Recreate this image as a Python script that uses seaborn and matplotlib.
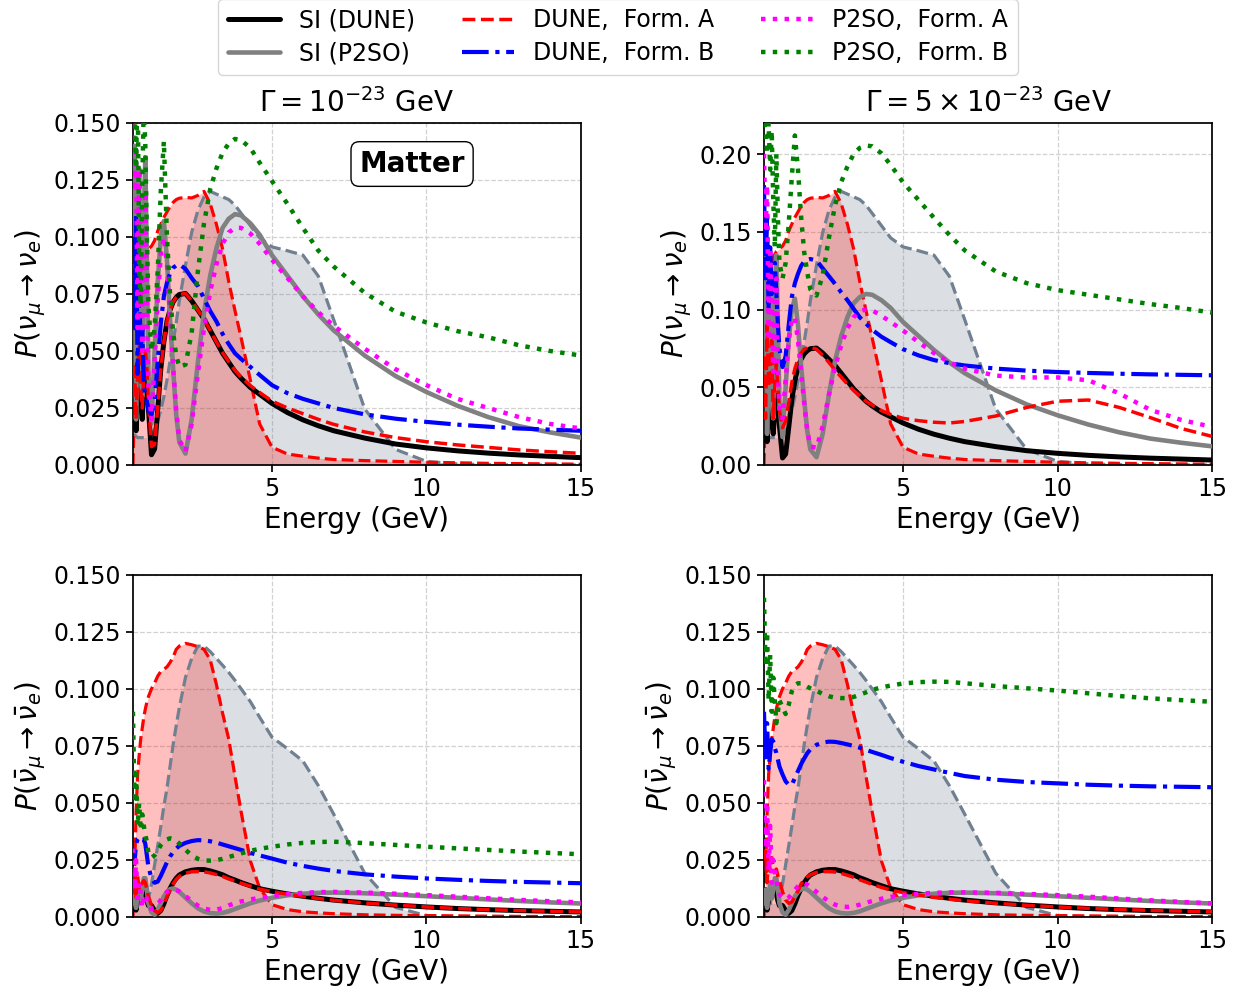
import numpy as np
import pandas as pd
import matplotlib
matplotlib.use("Agg")
import matplotlib.pyplot as plt
from matplotlib.lines import Line2D
from matplotlib.ticker import FormatStrFormatter
import seaborn as sns

# ---------------- data ----------------
energy = [0.5, 0.55, 0.6, 0.65, 0.7, 0.75, 0.8, 0.85, 0.9, 0.95, 1.0, 1.1, 1.2, 1.3, 1.4,
          1.5, 1.6, 1.7, 1.8, 1.9, 2.0, 2.2, 2.4, 2.6, 2.8, 3.0, 3.2, 3.4, 3.6, 3.8, 4.0,
          4.3, 4.6, 5.0, 5.5, 6.0, 6.5, 7.0, 8.0, 9.0, 10, 11, 12, 13, 14, 15]

# normalised flux shapes (peak = 1)
flux_dune_nu = [0.0, 0.25, 0.5, 0.62, 0.70, 0.74, 0.76, 0.77, 0.78, 0.785, 0.79, 0.80, 0.82, 0.855,
                0.88, 0.905, 0.925, 0.945, 0.96, 0.97, 0.975, 0.978, 0.976, 0.985, 1.0, 0.955, 0.88,
                0.79, 0.67, 0.565, 0.465, 0.31, 0.15, 0.065, 0.04, 0.032, 0.025, 0.02, 0.016, 0.013,
                0.01, 0.008, 0.006, 0.005, 0.004, 0.003]
flux_dune_nubar = [0.0, 0.15, 0.38, 0.52, 0.59, 0.65, 0.69, 0.73, 0.76, 0.785, 0.805, 0.834, 0.855,
                   0.88, 0.897, 0.905, 0.914, 0.93, 0.95, 0.978, 0.99, 1.0, 0.995, 0.988, 0.978, 0.94,
                   0.85, 0.745, 0.65, 0.515, 0.385, 0.205, 0.105, 0.045, 0.027, 0.019, 0.015, 0.012,
                   0.008, 0.006, 0.005, 0.004, 0.003, 0.002, 0.0015, 0.001]
flux_p2so_nu = [0.11, 0.11, 0.105, 0.10, 0.10, 0.10, 0.10, 0.10, 0.10, 0.10, 0.10, 0.11, 0.13, 0.16,
                0.20, 0.25, 0.31, 0.38, 0.45, 0.52, 0.60, 0.73, 0.85, 0.93, 0.98, 1.0, 0.99, 0.98,
                0.97, 0.95, 0.92, 0.875, 0.83, 0.797, 0.783, 0.767, 0.69, 0.53, 0.205, 0.057, 0.013,
                0.004, 0.001, 0.0, 0.0, 0.0]
flux_p2so_nubar = [0.08, 0.07, 0.065, 0.06, 0.055, 0.05, 0.05, 0.05, 0.05, 0.055, 0.065, 0.12, 0.19,
                   0.26, 0.33, 0.405, 0.47, 0.55, 0.63, 0.70, 0.765, 0.876, 0.945, 0.99, 0.99, 0.97,
                   0.945, 0.92, 0.894, 0.865, 0.834, 0.787, 0.73, 0.657, 0.615, 0.57, 0.48, 0.375,
                   0.16, 0.035, 0.005, 0.0, 0.0, 0.0, 0.0, 0.0]

# standard interactions (same in both Gamma columns)
si_dune_nu = [0.02, 0.04, 0.015, 0.035, 0.05, 0.03, 0.02, 0.035, 0.045, 0.04, 0.025, 0.0045, 0.007,
              0.024, 0.042, 0.054, 0.063, 0.068, 0.0715, 0.0735, 0.0748, 0.0752, 0.072, 0.068, 0.064,
              0.059, 0.054, 0.049, 0.045, 0.041, 0.038, 0.034, 0.031, 0.027, 0.023, 0.0198, 0.0172,
              0.015, 0.0118, 0.0092, 0.0075, 0.0062, 0.0052, 0.0044, 0.0038, 0.0032]
si_p2so_nu = [0.08, 0.14, 0.02, 0.10, 0.13, 0.04, 0.03, 0.11, 0.135, 0.09, 0.04, 0.018, 0.05, 0.08,
              0.1, 0.107, 0.09, 0.064, 0.042, 0.022, 0.01, 0.005, 0.02, 0.045, 0.067, 0.083, 0.095,
              0.104, 0.108, 0.11, 0.1095, 0.106, 0.101, 0.092, 0.083, 0.074, 0.066, 0.059, 0.048,
              0.039, 0.032, 0.026, 0.021, 0.017, 0.0143, 0.012]
si_dune_nubar = [0.004, 0.012, 0.003, 0.008, 0.012, 0.01, 0.013, 0.012, 0.01, 0.007, 0.005, 0.005,
                 0.0028, 0.0016, 0.0028, 0.0058, 0.0095, 0.0125, 0.015, 0.017, 0.0184, 0.0198, 0.0205,
                 0.0208, 0.0208, 0.0202, 0.0194, 0.0185, 0.0172, 0.0162, 0.0151, 0.0137, 0.0124,
                 0.0113, 0.0101, 0.0091, 0.0082, 0.0074, 0.0062, 0.0052, 0.0044, 0.0037, 0.0032,
                 0.0028, 0.0025, 0.0022]
si_p2so_nubar = [0.006, 0.012, 0.004, 0.01, 0.014, 0.008, 0.012, 0.017, 0.017, 0.012, 0.006, 0.002,
                 0.001, 0.003, 0.006, 0.009, 0.011, 0.0122, 0.0125, 0.012, 0.011, 0.0085, 0.006,
                 0.0038, 0.0024, 0.0017, 0.0015, 0.0018, 0.0025, 0.0035, 0.0045, 0.006, 0.0072,
                 0.0084, 0.0095, 0.0102, 0.0106, 0.0107, 0.0104, 0.0098, 0.0091, 0.0084, 0.0077,
                 0.007, 0.0064, 0.0059]

# Gamma = 1e-23 GeV, neutrinos
dune_A_g1_nu = [0.03, 0.045, 0.02, 0.04, 0.055, 0.035, 0.025, 0.04, 0.05, 0.042, 0.027, 0.008, 0.009,
                0.025, 0.042, 0.054, 0.063, 0.068, 0.0715, 0.0735, 0.0748, 0.0752, 0.072, 0.068,
                0.0638, 0.059, 0.054, 0.0492, 0.0453, 0.0415, 0.0385, 0.0348, 0.0318, 0.028, 0.025,
                0.0225, 0.02, 0.0178, 0.0145, 0.012, 0.0102, 0.0088, 0.0077, 0.0066, 0.0058, 0.0051]
dune_B_g1_nu = [0.10, 0.06, 0.11, 0.04, 0.08, 0.05, 0.06, 0.035, 0.03, 0.028, 0.024, 0.022, 0.028,
                0.045, 0.062, 0.074, 0.080, 0.084, 0.0865, 0.0875, 0.088, 0.086, 0.082, 0.0785,
                0.073, 0.0675, 0.063, 0.0575, 0.053, 0.049, 0.0465, 0.043, 0.0395, 0.035, 0.0315,
                0.029, 0.027, 0.025, 0.0222, 0.0203, 0.0189, 0.0177, 0.0168, 0.016, 0.0155, 0.015]
p2so_A_g1_nu = [0.16, 0.12, 0.14, 0.06, 0.13, 0.09, 0.05, 0.09, 0.12, 0.07, 0.035, 0.02, 0.045,
                0.072, 0.092, 0.1, 0.088, 0.065, 0.043, 0.024, 0.011, 0.006, 0.018, 0.04, 0.06,
                0.076, 0.088, 0.097, 0.102, 0.104, 0.104, 0.1015, 0.097, 0.090, 0.082, 0.074, 0.067,
                0.061, 0.051, 0.042, 0.035, 0.029, 0.025, 0.021, 0.018, 0.016]
p2so_B_g1_nu = [0.17, 0.16, 0.13, 0.17, 0.09, 0.07, 0.12, 0.16, 0.14, 0.10, 0.07, 0.05, 0.06, 0.085,
                0.12, 0.142, 0.10, 0.075, 0.058, 0.048, 0.043, 0.044, 0.058, 0.085, 0.106, 0.121,
                0.13, 0.137, 0.141, 0.143, 0.1425, 0.139, 0.1326, 0.1245, 0.1145, 0.104, 0.094,
                0.087, 0.0755, 0.0672, 0.0625, 0.0587, 0.056, 0.0525, 0.050, 0.048]

# Gamma = 5e-23 GeV, neutrinos
dune_A_g5_nu = [0.07, 0.03, 0.09, 0.05, 0.06, 0.08, 0.03, 0.05, 0.065, 0.05, 0.035, 0.024, 0.028,
                0.04, 0.053, 0.062, 0.068, 0.072, 0.0745, 0.0755, 0.0758, 0.0745, 0.0705, 0.066,
                0.061, 0.0565, 0.052, 0.048, 0.0445, 0.041, 0.0385, 0.035, 0.0325, 0.030, 0.0285,
                0.0275, 0.027, 0.028, 0.0315, 0.037, 0.041, 0.0418, 0.037, 0.0305, 0.0235, 0.0184]
dune_B_g5_nu = [0.18, 0.12, 0.16, 0.10, 0.14, 0.11, 0.12, 0.13, 0.11, 0.09, 0.075, 0.063, 0.07, 0.09,
                0.108, 0.117, 0.123, 0.128, 0.131, 0.132, 0.1325, 0.1315, 0.1265, 0.1215, 0.1165,
                0.111, 0.106, 0.1005, 0.095, 0.091, 0.087, 0.0825, 0.079, 0.0745, 0.0705, 0.0675,
                0.0655, 0.064, 0.062, 0.0607, 0.0598, 0.0592, 0.0587, 0.0583, 0.058, 0.0577]
p2so_A_g5_nu = [0.20, 0.15, 0.18, 0.08, 0.14, 0.10, 0.06, 0.11, 0.12, 0.06, 0.035, 0.03, 0.055,
                0.08, 0.094, 0.095, 0.08, 0.06, 0.04, 0.022, 0.012, 0.011, 0.025, 0.045, 0.063,
                0.077, 0.088, 0.095, 0.099, 0.1, 0.0995, 0.096, 0.092, 0.0865, 0.079, 0.072, 0.066,
                0.062, 0.0575, 0.0563, 0.0563, 0.0545, 0.046, 0.0355, 0.029, 0.0245]
p2so_B_g5_nu = [0.22, 0.215, 0.20, 0.22, 0.19, 0.215, 0.17, 0.14, 0.20, 0.16, 0.13, 0.12, 0.13,
                0.155, 0.185, 0.212, 0.19, 0.16, 0.137, 0.124, 0.113, 0.109, 0.122, 0.146, 0.167,
                0.182, 0.192, 0.2, 0.204, 0.2055, 0.205, 0.2005, 0.193, 0.1818, 0.1705, 0.159, 0.148,
                0.138, 0.1245, 0.117, 0.1125, 0.1095, 0.1065, 0.1035, 0.101, 0.098]

# Gamma = 1e-23 GeV, antineutrinos
dune_A_g1_nub = [0.01, 0.02, 0.008, 0.018, 0.012, 0.013, 0.015, 0.016, 0.015, 0.012, 0.009, 0.005,
                 0.0028, 0.0018, 0.0028, 0.0055, 0.009, 0.012, 0.0145, 0.0165, 0.0178, 0.0192,
                 0.0198, 0.0199, 0.0198, 0.0193, 0.0186, 0.0178, 0.0167, 0.0158, 0.0148, 0.0135,
                 0.0122, 0.0111, 0.01, 0.009, 0.0081, 0.0073, 0.0061, 0.0052, 0.0044, 0.0037, 0.0032,
                 0.0028, 0.0025, 0.0022]
dune_B_g1_nub = [0.03, 0.024, 0.032, 0.034, 0.035, 0.035, 0.034, 0.034, 0.032, 0.027, 0.022, 0.017,
                 0.015, 0.0155, 0.018, 0.021, 0.024, 0.0265, 0.0285, 0.030, 0.0312, 0.0325, 0.0333,
                 0.0337, 0.0336, 0.0332, 0.0326, 0.0318, 0.031, 0.0302, 0.0294, 0.0281, 0.027,
                 0.0256, 0.0238, 0.0224, 0.0212, 0.0202, 0.0187, 0.0177, 0.0169, 0.0163, 0.0158,
                 0.0154, 0.0151, 0.0148]
p2so_A_g1_nub = [0.03, 0.012, 0.025, 0.006, 0.015, 0.01, 0.004, 0.008, 0.01, 0.008, 0.005, 0.0035,
                 0.004, 0.0055, 0.0075, 0.0095, 0.011, 0.0118, 0.012, 0.0118, 0.0112, 0.0092, 0.007,
                 0.005, 0.0037, 0.0031, 0.0032, 0.0039, 0.0051, 0.006, 0.0068, 0.0077, 0.0084,
                 0.0091, 0.0100, 0.0106, 0.0109, 0.011, 0.0107, 0.0102, 0.0096, 0.0089, 0.0082,
                 0.0075, 0.0069, 0.0064]
p2so_B_g1_nub = [0.09, 0.05, 0.065, 0.04, 0.05, 0.038, 0.045, 0.04, 0.036, 0.033, 0.028, 0.026,
                 0.027, 0.029, 0.0315, 0.033, 0.034, 0.0345, 0.0342, 0.0335, 0.0322, 0.0295, 0.027,
                 0.0255, 0.0248, 0.0247, 0.0249, 0.0255, 0.0263, 0.0271, 0.0279, 0.029, 0.0299,
                 0.0308, 0.0318, 0.0325, 0.0329, 0.033, 0.0324, 0.0316, 0.0308, 0.0301, 0.0294,
                 0.0287, 0.0281, 0.0275]

# Gamma = 5e-23 GeV, antineutrinos
dune_A_g5_nub = [0.025, 0.029, 0.015, 0.027, 0.02, 0.026, 0.022, 0.02, 0.021, 0.018, 0.016, 0.011,
                 0.0075, 0.006, 0.0065, 0.009, 0.0115, 0.0145, 0.0163, 0.0176, 0.0185, 0.0195,
                 0.0199, 0.0199, 0.0197, 0.0191, 0.0183, 0.0174, 0.0163, 0.0153, 0.0143, 0.013,
                 0.0118, 0.0107, 0.0096, 0.0086, 0.0078, 0.0071, 0.006, 0.0051, 0.0044, 0.0038,
                 0.0033, 0.0029, 0.0026, 0.0023]
dune_B_g5_nub = [0.09, 0.07, 0.085, 0.065, 0.072, 0.078, 0.077, 0.074, 0.072, 0.069, 0.066, 0.0625,
                 0.0595, 0.058, 0.0579, 0.061, 0.064, 0.067, 0.0695, 0.0718, 0.0735, 0.0755, 0.0765,
                 0.0769, 0.0768, 0.0763, 0.0757, 0.075, 0.0742, 0.0733, 0.0724, 0.0711, 0.0697,
                 0.0681, 0.0662, 0.0647, 0.0632, 0.0618, 0.0602, 0.0592, 0.0586, 0.058, 0.0576,
                 0.0573, 0.0571, 0.0569]
p2so_A_g5_nub = [0.06, 0.03, 0.05, 0.02, 0.04, 0.015, 0.025, 0.02, 0.016, 0.012, 0.01, 0.0082,
                 0.0078, 0.0085, 0.01, 0.0118, 0.0135, 0.0145, 0.0148, 0.0142, 0.0132, 0.011, 0.0088,
                 0.0068, 0.0054, 0.0046, 0.0044, 0.0047, 0.0054, 0.0062, 0.007, 0.008, 0.0088,
                 0.0096, 0.0102, 0.0106, 0.0108, 0.0108, 0.0106, 0.0101, 0.0096, 0.0089, 0.0081,
                 0.0073, 0.0066, 0.006]
p2so_B_g5_nub = [0.14, 0.11, 0.125, 0.095, 0.115, 0.09, 0.105, 0.095, 0.085, 0.09, 0.095, 0.092,
                 0.089, 0.093, 0.099, 0.1017, 0.1025, 0.1025, 0.1018, 0.101, 0.1003, 0.0992, 0.0978,
                 0.0968, 0.0962, 0.096, 0.096, 0.0965, 0.0975, 0.0985, 0.0996, 0.1007, 0.1015,
                 0.1024, 0.103, 0.1032, 0.1031, 0.1025, 0.1013, 0.1003, 0.0993, 0.0981, 0.0969,
                 0.0959, 0.0951, 0.0944]

legend_labels = ["SI (DUNE)", "SI (P2SO)", "DUNE,  Form. A", "DUNE,  Form. B",
                 "P2SO,  Form. A", "P2SO,  Form. B"]
titles = [r"$\Gamma = 10^{-23}$ GeV", r"$\Gamma = 5\times10^{-23}$ GeV"]
ylabel_nu = r"$P(\nu_\mu \rightarrow \nu_e)$"
ylabel_nubar = r"$P(\bar{\nu}_\mu \rightarrow \bar{\nu}_e)$"

# ---------------- styling ----------------
sns.set_theme(style="ticks")
plt.rcParams.update({
    "font.family": ["DejaVu Sans"],
    "mathtext.fontset": "dejavusans",
    "axes.edgecolor": "black",
    "axes.linewidth": 1.25,
    "xtick.color": "black", "ytick.color": "black",
    "axes.labelcolor": "black", "text.color": "black",
    "xtick.major.size": 5, "ytick.major.size": 5,
    "xtick.major.width": 1.25, "ytick.major.width": 1.25,
    "xtick.labelsize": 17, "ytick.labelsize": 17,
    "axes.labelsize": 20, "axes.titlesize": 20,
})

styles = [
    dict(color="black", lw=3.6, ls="-"),
    dict(color="gray", lw=3.3, ls="-"),
    dict(color="red", lw=2.5, ls="--"),
    dict(color="blue", lw=3.0, ls="-."),
    dict(color="magenta", lw=3.2, ls=":"),
    dict(color="green", lw=3.2, ls=":"),
]

fig, axes = plt.subplots(2, 2, figsize=(12.45, 9.91), dpi=100)
fig.subplots_adjust(left=0.1068, right=0.9735, top=0.8759, bottom=0.0747,
                    wspace=0.4085, hspace=0.3216)

panels = [
    (axes[0, 0], 0.15, [0, 0.025, 0.05, 0.075, 0.1, 0.125, 0.15], "%.3f",
     flux_dune_nu, flux_p2so_nu,
     [si_dune_nu, si_p2so_nu, dune_A_g1_nu, dune_B_g1_nu, p2so_A_g1_nu, p2so_B_g1_nu],
     ylabel_nu, titles[0]),
    (axes[0, 1], 0.22, [0, 0.05, 0.1, 0.15, 0.2], "%.2f",
     flux_dune_nu, flux_p2so_nu,
     [si_dune_nu, si_p2so_nu, dune_A_g5_nu, dune_B_g5_nu, p2so_A_g5_nu, p2so_B_g5_nu],
     ylabel_nu, titles[1]),
    (axes[1, 0], 0.15, [0, 0.025, 0.05, 0.075, 0.1, 0.125, 0.15], "%.3f",
     flux_dune_nubar, flux_p2so_nubar,
     [si_dune_nubar, si_p2so_nubar, dune_A_g1_nub, dune_B_g1_nub, p2so_A_g1_nub, p2so_B_g1_nub],
     ylabel_nubar, None),
    (axes[1, 1], 0.15, [0, 0.025, 0.05, 0.075, 0.1, 0.125, 0.15], "%.3f",
     flux_dune_nubar, flux_p2so_nubar,
     [si_dune_nubar, si_p2so_nubar, dune_A_g5_nub, dune_B_g5_nub, p2so_A_g5_nub, p2so_B_g5_nub],
     ylabel_nubar, None),
]

e = np.array(energy)
for ax, ytop, yt, fmt, fd, fp, curves, ylab, title in panels:
    scale = 0.8 * ytop
    fd_s = np.array(fd) * scale
    fp_s = np.array(fp) * scale
    ax.fill_between(e, fp_s, color="slategray", alpha=0.25, lw=0, zorder=1)
    ax.fill_between(e, fd_s, color="red", alpha=0.25, lw=0, zorder=1)
    sns.lineplot(x=e, y=fp_s, ax=ax, color="slategray", lw=2.3, linestyle="--",
                 estimator=None, legend=False, zorder=2)
    sns.lineplot(x=e, y=fd_s, ax=ax, color="red", lw=2.3, linestyle="--",
                 estimator=None, legend=False, zorder=2)
    for vals, st in zip(curves, styles):
        sns.lineplot(x=e, y=vals, ax=ax, color=st["color"], lw=st["lw"], linestyle=st["ls"],
                     estimator=None, legend=False, zorder=3)
    ax.set_xlim(0.5, 15)
    ax.set_ylim(0, ytop)
    ax.set_xticks([5, 10, 15])
    ax.set_yticks(yt)
    ax.yaxis.set_major_formatter(FormatStrFormatter(fmt))
    ax.grid(True, linestyle="--", color="0.82", lw=0.9)
    ax.set_axisbelow(True)
    ax.set_xlabel("Energy (GeV)")
    ax.set_ylabel(ylab)
    if title:
        ax.set_title(title, pad=8)
    for sp in ax.spines.values():
        sp.set_visible(True)

axes[0, 0].text(0.623, 0.880, "Matter", transform=axes[0, 0].transAxes, ha="center",
                va="center", fontsize=20, fontweight="bold", zorder=5,
                bbox=dict(boxstyle="round,pad=0.3", fc="white", ec="black", lw=1.0))

handles = [Line2D([0], [0], color=st["color"], lw=st["lw"], ls=st["ls"]) for st in styles]
fig.legend(handles, legend_labels, loc="upper center", bbox_to_anchor=(0.4964, 1.013), ncol=3,
           fontsize=17, handlelength=2.2, labelspacing=0.38, columnspacing=2.0,
           frameon=True, fancybox=True)

fig.savefig("out.png", dpi=100)
